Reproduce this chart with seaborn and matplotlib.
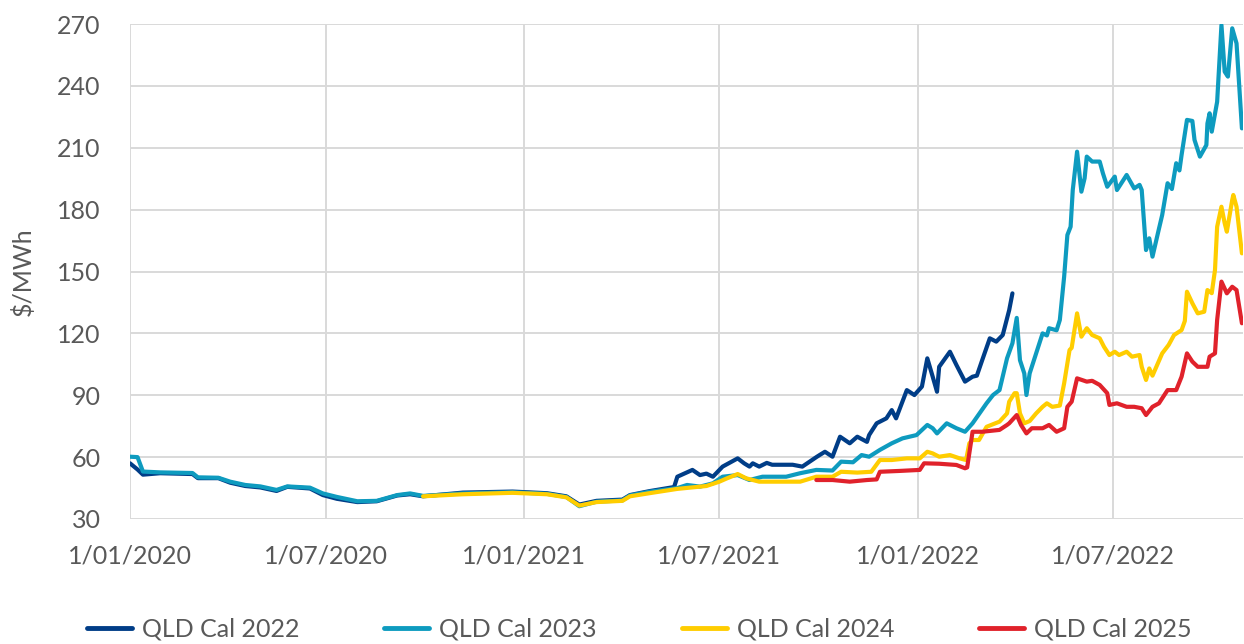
import matplotlib
matplotlib.use("Agg")
import matplotlib.pyplot as plt
import matplotlib.dates as mdates
from matplotlib.ticker import FuncFormatter
import pandas as pd
import seaborn as sns

# ---------------- data ----------------
series_names = ["QLD Cal 2022", "QLD Cal 2023", "QLD Cal 2024", "QLD Cal 2025"]
colors = ["#003d87", "#0e9bbf", "#ffcd00", "#e0222b"]

dates_2022 = ["2020-01-01", "2020-01-08", "2020-01-13", "2020-01-29", "2020-02-28", "2020-03-04",
              "2020-03-23", "2020-04-03", "2020-04-17", "2020-05-01", "2020-05-16", "2020-05-26",
              "2020-06-16", "2020-06-28", "2020-07-11", "2020-07-30", "2020-08-17", "2020-09-05",
              "2020-09-17", "2020-09-29", "2020-11-05", "2020-12-21", "2021-01-22", "2021-02-09",
              "2021-02-21", "2021-03-09", "2021-04-02", "2021-04-09", "2021-04-27", "2021-05-20",
              "2021-05-23", "2021-06-06", "2021-06-13", "2021-06-19", "2021-06-25", "2021-07-04",
              "2021-07-18", "2021-07-24", "2021-07-29", "2021-08-01", "2021-08-07", "2021-08-14",
              "2021-08-19", "2021-09-07", "2021-09-16", "2021-09-29", "2021-10-02", "2021-10-07",
              "2021-10-14", "2021-10-21", "2021-10-30", "2021-11-06", "2021-11-15", "2021-11-17",
              "2021-11-24", "2021-12-03", "2021-12-08", "2021-12-12", "2021-12-22", "2021-12-29",
              "2022-01-05", "2022-01-10", "2022-01-15", "2022-01-19", "2022-01-21", "2022-01-31",
              "2022-02-06", "2022-02-14", "2022-02-21", "2022-02-25", "2022-03-02", "2022-03-09",
              "2022-03-15", "2022-03-21", "2022-03-27", "2022-03-30"]
vals_2022 = [57.0, 54.0, 51.5, 52.2, 51.8, 49.8,
             49.8, 47.6, 46.0, 45.3, 43.6, 45.6,
             44.8, 41.6, 39.8, 38.2, 38.6, 41.4,
             42.0, 41.0, 42.8, 43.3, 42.5, 41.0,
             37.0, 38.8, 39.4, 41.6, 43.5, 45.5,
             50.5, 53.8, 51.3, 52.0, 50.5, 55.4,
             59.4, 57.0, 55.4, 57.0, 55.4, 57.2,
             56.3, 56.3, 55.4, 60.0, 61.0, 62.6,
             60.2, 69.9, 66.7, 69.9, 67.4, 70.7,
             76.4, 78.8, 82.8, 78.8, 92.5, 90.1,
             94.2, 107.9, 99.0, 91.7, 103.8, 111.1,
             104.7, 96.6, 99.0, 99.5, 107.1, 117.6,
             116.0, 119.2, 131.3, 139.4]

dates_2023 = ["2020-01-01", "2020-01-08", "2020-01-13", "2020-01-29", "2020-02-28", "2020-03-04",
              "2020-03-23", "2020-04-03", "2020-04-17", "2020-05-01", "2020-05-16", "2020-05-26",
              "2020-06-16", "2020-06-28", "2020-07-11", "2020-07-30", "2020-08-17", "2020-09-05",
              "2020-09-17", "2020-09-29", "2020-11-05", "2020-12-21", "2021-01-22", "2021-02-09",
              "2021-02-21", "2021-03-09", "2021-04-02", "2021-04-09", "2021-04-27", "2021-05-23",
              "2021-06-01", "2021-06-13", "2021-06-25", "2021-07-04", "2021-07-18", "2021-07-29",
              "2021-08-10", "2021-09-01", "2021-09-14", "2021-09-29", "2021-10-14", "2021-10-22",
              "2021-11-02", "2021-11-10", "2021-11-17", "2021-11-27", "2021-12-08", "2021-12-18",
              "2021-12-31", "2022-01-10", "2022-01-15", "2022-01-19", "2022-01-28", "2022-02-06",
              "2022-02-14", "2022-02-21", "2022-03-06", "2022-03-12", "2022-03-18", "2022-03-25",
              "2022-03-30", "2022-04-03", "2022-04-06", "2022-04-10", "2022-04-12", "2022-04-15",
              "2022-04-21", "2022-04-27", "2022-05-01", "2022-05-03", "2022-05-10", "2022-05-13",
              "2022-05-17", "2022-05-20", "2022-05-23", "2022-05-25", "2022-05-29", "2022-06-02",
              "2022-06-05", "2022-06-07", "2022-06-12", "2022-06-19", "2022-06-22", "2022-06-26",
              "2022-07-03", "2022-07-05", "2022-07-14", "2022-07-21", "2022-07-26", "2022-07-28",
              "2022-08-01", "2022-08-04", "2022-08-07", "2022-08-12", "2022-08-16", "2022-08-21",
              "2022-08-25", "2022-08-29", "2022-09-01", "2022-09-03", "2022-09-08", "2022-09-13",
              "2022-09-15", "2022-09-20", "2022-09-26", "2022-09-27", "2022-09-29", "2022-10-01",
              "2022-10-06", "2022-10-10", "2022-10-13", "2022-10-16", "2022-10-20", "2022-10-24",
              "2022-10-29"]
vals_2023 = [60.2, 60.0, 53.0, 52.6, 52.3, 50.2,
             50.0, 48.1, 46.5, 45.8, 44.1, 45.8,
             45.2, 42.4, 40.7, 38.6, 38.8, 41.6,
             42.4, 41.2, 42.4, 43.0, 42.2, 40.7,
             36.2, 38.4, 39.0, 41.4, 43.2, 45.0,
             46.5, 45.7, 47.3, 50.5, 51.3, 48.9,
             50.5, 50.5, 52.2, 53.8, 53.5, 57.8,
             57.5, 61.0, 60.2, 63.5, 66.7, 69.1,
             70.7, 75.6, 74.0, 71.5, 76.4, 74.0,
             72.3, 76.4, 86.1, 90.1, 92.5, 107.9,
             115.2, 127.5, 107.0, 100.6, 90.1, 100.6,
             110.3, 120.0, 119.0, 122.5, 121.5, 126.5,
             147.5, 167.7, 171.7, 189.5, 208.1, 188.7,
             195.2, 205.7, 203.3, 203.3, 197.6, 191.1,
             196.0, 189.5, 196.8, 190.3, 192.0, 189.5,
             160.4, 166.1, 157.2, 168.5, 177.4, 192.8,
             190.0, 202.5, 199.0, 206.5, 223.5, 223.0,
             213.8, 205.7, 211.3, 221.8, 226.7, 217.8,
             232.3, 269.5, 246.9, 244.5, 267.9, 260.6,
             219.4]

dates_2024 = ["2020-09-29", "2020-11-05", "2020-12-21", "2021-01-22", "2021-02-09", "2021-02-21",
              "2021-03-09", "2021-04-02", "2021-04-09", "2021-04-27", "2021-05-23", "2021-06-19",
              "2021-07-01", "2021-07-08", "2021-07-18", "2021-07-26", "2021-08-07", "2021-08-26",
              "2021-09-14", "2021-09-29", "2021-10-14", "2021-10-22", "2021-11-06", "2021-11-19",
              "2021-11-27", "2021-12-08", "2021-12-22", "2022-01-03", "2022-01-10", "2022-01-15",
              "2022-01-21", "2022-01-31", "2022-02-09", "2022-02-15", "2022-02-18", "2022-02-21",
              "2022-02-27", "2022-03-06", "2022-03-18", "2022-03-25", "2022-03-27", "2022-04-01",
              "2022-04-03", "2022-04-06", "2022-04-10", "2022-04-15", "2022-04-21", "2022-04-27",
              "2022-05-01", "2022-05-06", "2022-05-13", "2022-05-17", "2022-05-22", "2022-05-24",
              "2022-05-29", "2022-06-02", "2022-06-07", "2022-06-12", "2022-06-19", "2022-06-23",
              "2022-06-28", "2022-07-03", "2022-07-07", "2022-07-14", "2022-07-19", "2022-07-26",
              "2022-07-28", "2022-08-01", "2022-08-04", "2022-08-07", "2022-08-12", "2022-08-16",
              "2022-08-22", "2022-08-27", "2022-09-03", "2022-09-06", "2022-09-08", "2022-09-13",
              "2022-09-18", "2022-09-24", "2022-09-27", "2022-10-01", "2022-10-04", "2022-10-06",
              "2022-10-10", "2022-10-13", "2022-10-15", "2022-10-20", "2022-10-21", "2022-10-24",
              "2022-10-29"]
vals_2024 = [41.0, 42.0, 42.7, 42.0, 40.5, 36.5,
             38.2, 38.8, 41.0, 42.5, 44.6, 46.0,
             48.1, 49.7, 51.8, 49.7, 48.1, 48.1,
             48.1, 50.5, 50.5, 52.9, 52.5, 52.9,
             58.6, 58.6, 59.4, 59.4, 62.6, 61.8,
             60.2, 61.0, 59.4, 58.6, 66.7, 68.3,
             68.3, 74.7, 77.2, 81.2, 86.9, 91.0,
             91.0, 81.2, 76.4, 77.5, 81.2, 84.4,
             86.1, 84.4, 85.0, 95.8, 111.9, 113.0,
             129.7, 118.4, 122.5, 119.2, 117.6, 113.5,
             109.5, 111.1, 109.5, 111.1, 108.7, 109.5,
             103.8, 97.4, 103.0, 99.5, 105.5, 110.3,
             114.4, 119.2, 121.6, 126.0, 140.2, 134.6,
             129.7, 130.5, 141.0, 139.5, 150.7, 171.7,
             181.4, 173.4, 169.3, 184.7, 187.1, 181.4,
             158.8]

dates_2025 = ["2021-09-29", "2021-10-14", "2021-10-30", "2021-11-15", "2021-11-24", "2021-11-27",
              "2021-12-15", "2022-01-03", "2022-01-07", "2022-01-21", "2022-02-06", "2022-02-14",
              "2022-02-16", "2022-02-21", "2022-03-02", "2022-03-18", "2022-03-25", "2022-03-27",
              "2022-04-03", "2022-04-07", "2022-04-12", "2022-04-17", "2022-04-27", "2022-05-03",
              "2022-05-10", "2022-05-17", "2022-05-20", "2022-05-24", "2022-05-29", "2022-06-07",
              "2022-06-12", "2022-06-19", "2022-06-26", "2022-06-28", "2022-07-05", "2022-07-14",
              "2022-07-21", "2022-07-28", "2022-08-01", "2022-08-07", "2022-08-13", "2022-08-21",
              "2022-08-29", "2022-09-03", "2022-09-08", "2022-09-13", "2022-09-18", "2022-09-27",
              "2022-09-29", "2022-10-04", "2022-10-06", "2022-10-10", "2022-10-15", "2022-10-20",
              "2022-10-24", "2022-10-29"]
vals_2025 = [48.9, 48.9, 48.1, 48.9, 49.2, 52.9,
             53.3, 53.8, 57.0, 56.8, 56.2, 54.6,
             55.0, 72.3, 72.3, 73.2, 75.6, 76.4,
             80.4, 75.6, 71.5, 74.0, 74.0, 75.6,
             72.3, 74.0, 84.4, 86.9, 98.2, 96.6,
             97.0, 95.0, 91.0, 85.3, 86.1, 84.4,
             84.4, 83.7, 80.4, 84.4, 86.1, 92.5,
             92.5, 99.0, 110.3, 106.3, 103.8, 103.8,
             108.7, 110.3, 126.5, 145.1, 139.4, 142.6,
             141.0, 124.9]

x_ticks = ["2020-01-01", "2020-07-01", "2021-01-01", "2021-07-01", "2022-01-01", "2022-07-01"]
y_ticks = [30, 60, 90, 120, 150, 180, 210, 240, 270]
y_label = "$/MWh"

# ---------------- build table ----------------
frames = []
for name, d, v in zip(series_names,
                      [dates_2022, dates_2023, dates_2024, dates_2025],
                      [vals_2022, vals_2023, vals_2024, vals_2025]):
    frames.append(pd.DataFrame({"date": pd.to_datetime(d), "value": v, "series": name}))
df = pd.concat(frames, ignore_index=True)

# ---------------- style ----------------
sns.set_theme(style="white")
plt.rcParams["font.family"] = ["Lato", "DejaVu Sans"]
text_color = "#595959"
grid_color = "#d9d9d9"
fs = 18

fig = plt.figure(figsize=(12.44, 6.44), dpi=100)
ax = fig.add_axes([130 / 1244, 1 - 519 / 644, (1243 - 130) / 1244, (519 - 24) / 644])

sns.lineplot(data=df, x="date", y="value", hue="series", hue_order=series_names,
             palette=colors, linewidth=3.0, estimator=None, ax=ax, legend=True)

ax.set_xlim(pd.Timestamp("2020-01-01"), pd.Timestamp("2022-10-30"))
ax.set_ylim(30, 270)
ax.set_yticks(y_ticks)
ax.set_xticks(pd.to_datetime(x_ticks))
ax.xaxis.set_major_formatter(FuncFormatter(
    lambda x, pos: (lambda d: f"{d.day}/{d.month:02d}/{d.year}")(mdates.num2date(x))))

ax.grid(True, color=grid_color, linewidth=1.4)
ax.set_axisbelow(True)
for s in ax.spines.values():
    s.set_visible(False)
ax.tick_params(axis="both", length=0, labelsize=fs, colors=text_color)
ax.tick_params(axis="y", pad=21)
ax.tick_params(axis="x", pad=18)
ax.set_xlabel("")
ax.set_ylabel(y_label, fontsize=fs, color=text_color, labelpad=16)

handles, labels = ax.get_legend_handles_labels()
ax.get_legend().remove()
leg = fig.legend(handles, labels, loc="center", bbox_to_anchor=(0.514, 0.023), ncol=4,
                 frameon=False, fontsize=fs, handlelength=1.8, handletextpad=0.4,
                 columnspacing=3.4, labelcolor=text_color)
for line in leg.get_lines():
    line.set_linewidth(3.5)

fig.savefig("out.png", dpi=100)
